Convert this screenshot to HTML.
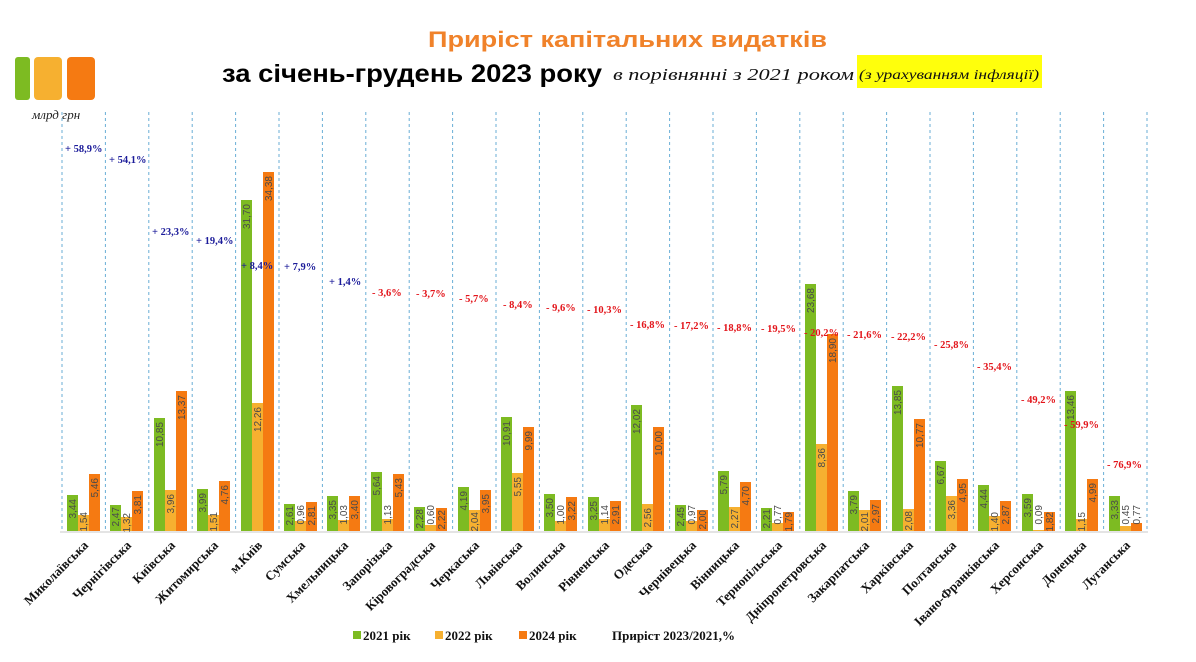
<!DOCTYPE html>
<html><head><meta charset="utf-8"><style>
html,body{margin:0;padding:0;background:#fff;}
svg{display:block;}
.v{font-family:"Liberation Sans",sans-serif;font-size:10px;fill:#4a4a4a;}
.p{font-family:"Liberation Serif",serif;font-weight:bold;font-size:10.5px;}
.b{fill:#1c1c9a;} .r{fill:#e3141a;}
.c{font-family:"Liberation Serif",serif;font-weight:bold;font-size:13px;fill:#111;}
.dv{stroke:#6aaed6;stroke-width:1;stroke-dasharray:3,3;}
</style></head><body>
<svg width="1196" height="662" xmlns="http://www.w3.org/2000/svg">
<rect width="1196" height="662" fill="#fff"/>
<!-- logo -->
<rect x="15" y="57" width="15" height="43" rx="3" fill="#7dbb22"/>
<rect x="34" y="57" width="28" height="43" rx="4" fill="#f6b030"/>
<rect x="67" y="57" width="28" height="43" rx="4" fill="#f57a12"/>
<text x="32" y="119" font-family="Liberation Serif,serif" font-style="italic" font-size="13" fill="#222">млрд грн</text>
<!-- titles -->
<text x="428" y="47" font-family="Liberation Sans,sans-serif" font-weight="bold" font-size="22" fill="#f0822a" textLength="399" lengthAdjust="spacingAndGlyphs">Приріст капітальних видатків</text>
<text x="222" y="82" font-family="Liberation Sans,sans-serif" font-weight="bold" font-size="25" fill="#000" textLength="380" lengthAdjust="spacingAndGlyphs">за січень-грудень 2023 року</text>
<text x="613" y="80" font-family="Liberation Serif,serif" font-style="italic" font-size="17" fill="#111" textLength="241" lengthAdjust="spacingAndGlyphs">в порівнянні з 2021 роком</text>
<rect x="857" y="55" width="185" height="33" fill="#ffff0c"/>
<text x="859" y="79" font-family="Liberation Serif,serif" font-style="italic" font-size="14" fill="#111" textLength="180" lengthAdjust="spacingAndGlyphs">(з урахуванням інфляції)</text>
<!-- dividers -->
<g class="dv">
<line x1="62" y1="112" x2="62" y2="531"/><line x1="105.4" y1="112" x2="105.4" y2="531"/><line x1="148.8" y1="112" x2="148.8" y2="531"/><line x1="192.2" y1="112" x2="192.2" y2="531"/><line x1="235.6" y1="112" x2="235.6" y2="531"/><line x1="279" y1="112" x2="279" y2="531"/><line x1="322.4" y1="112" x2="322.4" y2="531"/><line x1="365.8" y1="112" x2="365.8" y2="531"/><line x1="409.2" y1="112" x2="409.2" y2="531"/><line x1="452.6" y1="112" x2="452.6" y2="531"/><line x1="496" y1="112" x2="496" y2="531"/><line x1="539.4" y1="112" x2="539.4" y2="531"/><line x1="582.8" y1="112" x2="582.8" y2="531"/><line x1="626.2" y1="112" x2="626.2" y2="531"/><line x1="669.6" y1="112" x2="669.6" y2="531"/><line x1="713" y1="112" x2="713" y2="531"/><line x1="756.4" y1="112" x2="756.4" y2="531"/><line x1="799.8" y1="112" x2="799.8" y2="531"/><line x1="843.2" y1="112" x2="843.2" y2="531"/><line x1="886.6" y1="112" x2="886.6" y2="531"/><line x1="930" y1="112" x2="930" y2="531"/><line x1="973.4" y1="112" x2="973.4" y2="531"/><line x1="1016.8" y1="112" x2="1016.8" y2="531"/><line x1="1060.2" y1="112" x2="1060.2" y2="531"/><line x1="1103.6" y1="112" x2="1103.6" y2="531"/><line x1="1147" y1="112" x2="1147" y2="531"/>
</g>
<line x1="60" y1="532" x2="1148" y2="532" stroke="#e4e4e4" stroke-width="2"/>
<!-- bars -->
<g fill="#7dbb22">
<rect x="67" y="495" width="11" height="36"/><rect x="110" y="505" width="11" height="26"/><rect x="154" y="418" width="11" height="113"/><rect x="197" y="489" width="11" height="42"/><rect x="241" y="200" width="11" height="331"/><rect x="284" y="504" width="11" height="27"/><rect x="327" y="496" width="11" height="35"/><rect x="371" y="472" width="11" height="59"/><rect x="414" y="507" width="11" height="24"/><rect x="458" y="487" width="11" height="44"/><rect x="501" y="417" width="11" height="114"/><rect x="544" y="494" width="11" height="37"/><rect x="588" y="497" width="11" height="34"/><rect x="631" y="405" width="11" height="126"/><rect x="675" y="505" width="11" height="26"/><rect x="718" y="471" width="11" height="60"/><rect x="761" y="508" width="11" height="23"/><rect x="805" y="284" width="11" height="247"/><rect x="848" y="491" width="11" height="40"/><rect x="892" y="386" width="11" height="145"/><rect x="935" y="461" width="11" height="70"/><rect x="978" y="485" width="11" height="46"/><rect x="1022" y="494" width="11" height="37"/><rect x="1065" y="391" width="11" height="140"/><rect x="1109" y="496" width="11" height="35"/>
</g>
<g fill="#f6b030">
<rect x="78" y="515" width="11" height="16"/><rect x="121" y="517" width="11" height="14"/><rect x="165" y="490" width="11" height="41"/><rect x="208" y="515" width="11" height="16"/><rect x="252" y="403" width="11" height="128"/><rect x="295" y="521" width="11" height="10"/><rect x="338" y="520" width="11" height="11"/><rect x="382" y="519" width="11" height="12"/><rect x="425" y="525" width="11" height="6"/><rect x="469" y="510" width="11" height="21"/><rect x="512" y="473" width="11" height="58"/><rect x="555" y="521" width="11" height="10"/><rect x="599" y="519" width="11" height="12"/><rect x="642" y="504" width="11" height="27"/><rect x="686" y="521" width="11" height="10"/><rect x="729" y="507" width="11" height="24"/><rect x="772" y="523" width="11" height="8"/><rect x="816" y="444" width="11" height="87"/><rect x="859" y="510" width="11" height="21"/><rect x="903" y="509" width="11" height="22"/><rect x="946" y="496" width="11" height="35"/><rect x="989" y="516" width="11" height="15"/><rect x="1033" y="530" width="11" height="1"/><rect x="1076" y="519" width="11" height="12"/><rect x="1120" y="526" width="11" height="5"/>
</g>
<g fill="#f57a12">
<rect x="89" y="474" width="11" height="57"/><rect x="132" y="491" width="11" height="40"/><rect x="176" y="391" width="11" height="140"/><rect x="219" y="481" width="11" height="50"/><rect x="263" y="172" width="11" height="359"/><rect x="306" y="502" width="11" height="29"/><rect x="349" y="496" width="11" height="35"/><rect x="393" y="474" width="11" height="57"/><rect x="436" y="508" width="11" height="23"/><rect x="480" y="490" width="11" height="41"/><rect x="523" y="427" width="11" height="104"/><rect x="566" y="497" width="11" height="34"/><rect x="610" y="501" width="11" height="30"/><rect x="653" y="427" width="11" height="104"/><rect x="697" y="510" width="11" height="21"/><rect x="740" y="482" width="11" height="49"/><rect x="783" y="512" width="11" height="19"/><rect x="827" y="334" width="11" height="197"/><rect x="870" y="500" width="11" height="31"/><rect x="914" y="419" width="11" height="112"/><rect x="957" y="479" width="11" height="52"/><rect x="1000" y="501" width="11" height="30"/><rect x="1044" y="512" width="11" height="19"/><rect x="1087" y="479" width="11" height="52"/><rect x="1131" y="523" width="11" height="8"/>
</g>
<!-- values -->
<g class="v" text-anchor="end">
<text transform="translate(76,499) rotate(-90)">3,44</text><text transform="translate(87,512) rotate(-90)">1,54</text><text transform="translate(98,478) rotate(-90)">5,46</text>
<text transform="translate(119,507) rotate(-90)">2,47</text><text transform="translate(130,513) rotate(-90)">1,32</text><text transform="translate(141,495) rotate(-90)">3,81</text>
<text transform="translate(163,422) rotate(-90)">10,85</text><text transform="translate(174,494) rotate(-90)">3,96</text><text transform="translate(185,395) rotate(-90)">13,37</text>
<text transform="translate(206,493) rotate(-90)">3,99</text><text transform="translate(217,512) rotate(-90)">1,51</text><text transform="translate(228,485) rotate(-90)">4,76</text>
<text transform="translate(250,204) rotate(-90)">31,70</text><text transform="translate(261,407) rotate(-90)">12,26</text><text transform="translate(272,176) rotate(-90)">34,38</text>
<text transform="translate(293,506) rotate(-90)">2,61</text><text transform="translate(304,505) rotate(-90)">0,96</text><text transform="translate(315,506) rotate(-90)">2,81</text>
<text transform="translate(336,500) rotate(-90)">3,35</text><text transform="translate(347,505) rotate(-90)">1,03</text><text transform="translate(358,500) rotate(-90)">3,40</text>
<text transform="translate(380,476) rotate(-90)">5,64</text><text transform="translate(391,505) rotate(-90)">1,13</text><text transform="translate(402,478) rotate(-90)">5,43</text>
<text transform="translate(423,509) rotate(-90)">2,28</text><text transform="translate(434,505) rotate(-90)">0,60</text><text transform="translate(445,510) rotate(-90)">2,22</text>
<text transform="translate(467,491) rotate(-90)">4,19</text><text transform="translate(478,512) rotate(-90)">2,04</text><text transform="translate(489,494) rotate(-90)">3,95</text>
<text transform="translate(510,421) rotate(-90)">10,91</text><text transform="translate(521,477) rotate(-90)">5,55</text><text transform="translate(532,431) rotate(-90)">9,99</text>
<text transform="translate(553,498) rotate(-90)">3,50</text><text transform="translate(564,505) rotate(-90)">1,00</text><text transform="translate(575,501) rotate(-90)">3,22</text>
<text transform="translate(597,501) rotate(-90)">3,25</text><text transform="translate(608,505) rotate(-90)">1,14</text><text transform="translate(619,505) rotate(-90)">2,91</text>
<text transform="translate(640,409) rotate(-90)">12,02</text><text transform="translate(651,508) rotate(-90)">2,56</text><text transform="translate(662,431) rotate(-90)">10,00</text>
<text transform="translate(684,507) rotate(-90)">2,45</text><text transform="translate(695,505) rotate(-90)">0,97</text><text transform="translate(706,510) rotate(-90)">2,00</text>
<text transform="translate(727,475) rotate(-90)">5,79</text><text transform="translate(738,509) rotate(-90)">2,27</text><text transform="translate(749,486) rotate(-90)">4,70</text>
<text transform="translate(770,509) rotate(-90)">2,21</text><text transform="translate(781,505) rotate(-90)">0,77</text><text transform="translate(792,512) rotate(-90)">1,79</text>
<text transform="translate(814,288) rotate(-90)">23,68</text><text transform="translate(825,448) rotate(-90)">8,36</text><text transform="translate(836,338) rotate(-90)">18,90</text>
<text transform="translate(857,495) rotate(-90)">3,79</text><text transform="translate(868,512) rotate(-90)">2,01</text><text transform="translate(879,504) rotate(-90)">2,97</text>
<text transform="translate(901,390) rotate(-90)">13,85</text><text transform="translate(912,511) rotate(-90)">2,08</text><text transform="translate(923,423) rotate(-90)">10,77</text>
<text transform="translate(944,465) rotate(-90)">6,67</text><text transform="translate(955,500) rotate(-90)">3,36</text><text transform="translate(966,483) rotate(-90)">4,95</text>
<text transform="translate(987,489) rotate(-90)">4,44</text><text transform="translate(998,512) rotate(-90)">1,40</text><text transform="translate(1009,505) rotate(-90)">2,87</text>
<text transform="translate(1031,498) rotate(-90)">3,59</text><text transform="translate(1042,505) rotate(-90)">0,09</text><text transform="translate(1053,512) rotate(-90)">1,82</text>
<text transform="translate(1074,395) rotate(-90)">13,46</text><text transform="translate(1085,512) rotate(-90)">1,15</text><text transform="translate(1096,483) rotate(-90)">4,99</text>
<text transform="translate(1118,500) rotate(-90)">3,33</text><text transform="translate(1129,505) rotate(-90)">0,45</text><text transform="translate(1140,505) rotate(-90)">0,77</text>
</g>
<!-- percents -->
<g class="p">
<text class="b" x="65" y="152">+ 58,9%</text>
<text class="b" x="109" y="163">+ 54,1%</text>
<text class="b" x="152" y="235">+ 23,3%</text>
<text class="b" x="196" y="244">+ 19,4%</text>
<text class="b" x="241" y="269">+ 8,4%</text>
<text class="b" x="284" y="270">+ 7,9%</text>
<text class="b" x="329" y="285">+ 1,4%</text>
<text class="r" x="372" y="296">- 3,6%</text>
<text class="r" x="416" y="297">- 3,7%</text>
<text class="r" x="459" y="302">- 5,7%</text>
<text class="r" x="503" y="308">- 8,4%</text>
<text class="r" x="546" y="311">- 9,6%</text>
<text class="r" x="587" y="313">- 10,3%</text>
<text class="r" x="630" y="328">- 16,8%</text>
<text class="r" x="674" y="329">- 17,2%</text>
<text class="r" x="717" y="331">- 18,8%</text>
<text class="r" x="761" y="332">- 19,5%</text>
<text class="r" x="804" y="336">- 20,2%</text>
<text class="r" x="847" y="338">- 21,6%</text>
<text class="r" x="891" y="340">- 22,2%</text>
<text class="r" x="934" y="348">- 25,8%</text>
<text class="r" x="977" y="370">- 35,4%</text>
<text class="r" x="1021" y="403">- 49,2%</text>
<text class="r" x="1064" y="428">- 59,9%</text>
<text class="r" x="1107" y="468">- 76,9%</text>
</g>
<!-- categories -->
<g class="c" text-anchor="end">
<text transform="translate(89,546) rotate(-45)">Миколаївська</text>
<text transform="translate(132,546) rotate(-45)">Чернігівська</text>
<text transform="translate(176,546) rotate(-45)">Київська</text>
<text transform="translate(219,546) rotate(-45)">Житомирська</text>
<text transform="translate(263,546) rotate(-45)">м.Київ</text>
<text transform="translate(306,546) rotate(-45)">Сумська</text>
<text transform="translate(349,546) rotate(-45)">Хмельницька</text>
<text transform="translate(393,546) rotate(-45)">Запорізька</text>
<text transform="translate(436,546) rotate(-45)">Кіровоградська</text>
<text transform="translate(480,546) rotate(-45)">Черкаська</text>
<text transform="translate(523,546) rotate(-45)">Львівська</text>
<text transform="translate(566,546) rotate(-45)">Волинська</text>
<text transform="translate(610,546) rotate(-45)">Рівненська</text>
<text transform="translate(653,546) rotate(-45)">Одеська</text>
<text transform="translate(697,546) rotate(-45)">Чернівецька</text>
<text transform="translate(740,546) rotate(-45)">Вінницька</text>
<text transform="translate(783,546) rotate(-45)">Тернопільська</text>
<text transform="translate(827,546) rotate(-45)">Дніпропетровська</text>
<text transform="translate(870,546) rotate(-45)">Закарпатська</text>
<text transform="translate(914,546) rotate(-45)">Харківська</text>
<text transform="translate(957,546) rotate(-45)">Полтавська</text>
<text transform="translate(1000,546) rotate(-45)">Івано-Франківська</text>
<text transform="translate(1044,546) rotate(-45)">Херсонська</text>
<text transform="translate(1087,546) rotate(-45)">Донецька</text>
<text transform="translate(1131,546) rotate(-45)">Луганська</text>
</g>
<!-- legend -->
<g font-family="Liberation Serif,serif" font-weight="bold" font-size="13" fill="#111">
<rect x="353" y="631" width="8" height="8" fill="#7dbb22"/><text x="363" y="640">2021 рік</text>
<rect x="435" y="631" width="8" height="8" fill="#f6b030"/><text x="445" y="640">2022 рік</text>
<rect x="519" y="631" width="8" height="8" fill="#f57a12"/><text x="529" y="640">2024 рік</text>
<text x="612" y="640">Приріст 2023/2021,%</text>
</g>
</svg>
</body></html>
